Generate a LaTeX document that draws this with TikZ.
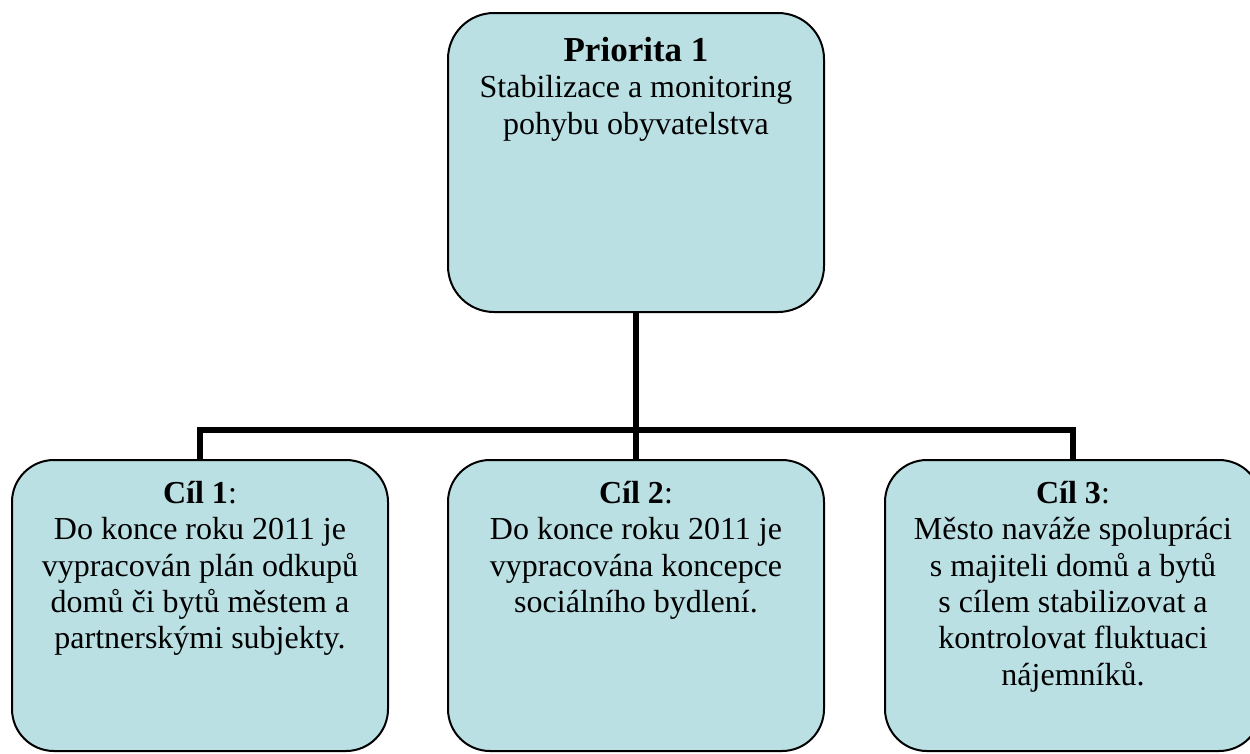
\documentclass[tikz,border=0pt]{standalone}
\usepackage{fontspec}
\setmainfont{Liberation Serif}
\definecolor{boxfill}{RGB}{186,224,228}
\begin{document}
\begin{tikzpicture}[x=1pt,y=-1pt,
  goalbox/.style={draw=black, line width=2pt, fill=boxfill, rounded corners=42pt,
    minimum width=376pt, minimum height=291pt, inner sep=0pt},
  topbox/.style={goalbox, rounded corners=46pt, minimum height=299pt},
  boxtext/.style={anchor=north, align=center, inner sep=0pt,
    font=\fontsize{32}{36.4}\selectfont},
  conn/.style={line width=5.5pt, line join=miter}]
\useasboundingbox (0,0) rectangle (1250,753);

% priority and the three goals
\node[topbox]  (top) at (636,162.5) {};
\node[goalbox] (c1)  at (200,605.5) {};
\node[goalbox] (c2)  at (636,605.5) {};
\node[goalbox] (c3)  at (1073,605.5) {};

% tree connectors
\coordinate (bar) at (636,430);
\draw[conn] (top.south) -- (bar);
\draw[conn] (c1.north) -- (c1.north |- bar) -- (c3.north |- bar) -- (c3.north);
\draw[conn] (c2.north) -- (c2.north |- bar);

% box texts
\node[boxtext] (ttop) at (636,31)
  {\rule{0pt}{30pt}{\fontsize{35}{36}\selectfont\bfseries Priorita 1}\\Stabilizace a monitoring\\pohybu obyvatelstva};
\node[boxtext] (tc1) at (200,473)
  {\rule{0pt}{30pt}\textbf{Cíl 1}:\\Do konce roku 2011 je\\vypracován plán odkupů\\domů či bytů městem a\\partnerskými subjekty.};
\node[boxtext] (tc2) at (636,473)
  {\rule{0pt}{30pt}\textbf{Cíl 2}:\\Do konce roku 2011 je\\vypracována koncepce\\sociálního bydlení.};
\node[boxtext] (tc3) at (1073,473)
  {\rule{0pt}{30pt}\textbf{Cíl 3}:\\Město naváže spolupráci\\s majiteli domů a bytů\\s cílem stabilizovat a\\kontrolovat fluktuaci\\nájemníků.};
\end{tikzpicture}
\end{document}
